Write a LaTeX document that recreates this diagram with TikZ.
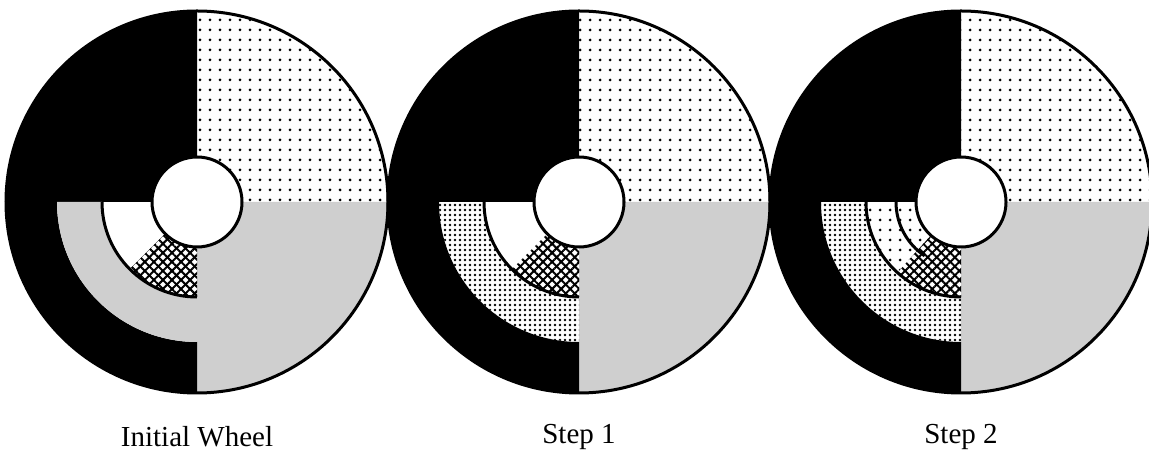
\documentclass[tikz,border=0pt]{standalone}
\usepackage{fontspec}
\setmainfont{Liberation Serif}
\usetikzlibrary{patterns.meta}

\begin{document}
\begin{tikzpicture}[
  x=0.5pt, y=0.5pt,
  outline/.style={line width=1.5pt},
  sparsedots/.style={pattern={Dots[distance=5pt, radius=0.75pt]}},
  densedots/.style={pattern={Dots[distance=2.5pt, radius=0.65pt]}},
  stipple/.style={fill=black!19},
  hatchup/.style={pattern={Lines[angle=45, distance=3.2pt, line width=1pt]}},
  hatchdown/.style={pattern={Lines[angle=-45, distance=3.2pt, line width=1pt]}},
  caption/.style={font=\fontsize{14.5}{17}\selectfont}
]
  \useasboundingbox (0,0) rectangle (1149,470);

  % parts shared by all three wheels
  \foreach \cx in {197,579,961} {
    \fill (\cx,268) -- ++(90:191) arc[start angle=90, end angle=180, radius=191] -- cycle;
    \path[sparsedots] (\cx,268) -- ++(0:191) arc[start angle=0, end angle=90, radius=191] -- cycle;
    \fill[stipple] (\cx,268) -- ++(270:191) arc[start angle=270, end angle=360, radius=191] -- cycle;
    \fill (\cx,268) ++(180:191) arc[start angle=180, end angle=270, radius=191]
      -- ++(90:51) arc[start angle=270, end angle=180, radius=140] -- cycle;
  }

  % initial wheel
  \fill[stipple] (197,268) ++(180:140) arc[start angle=180, end angle=270, radius=140]
    -- ++(90:45) arc[start angle=270, end angle=180, radius=95] -- cycle;

  % step 1
  \path[densedots] (579,268) ++(180:140) arc[start angle=180, end angle=270, radius=140]
    -- ++(90:45) arc[start angle=270, end angle=180, radius=95] -- cycle;

  % step 2
  \path[densedots] (961,268) ++(180:140) arc[start angle=180, end angle=270, radius=140]
    -- ++(90:45) arc[start angle=270, end angle=180, radius=95] -- cycle;
  \path[sparsedots] (961,268) ++(180:95) arc[start angle=180, end angle=228, radius=95]
    -- ++(48:50) arc[start angle=228, end angle=180, radius=45] -- cycle;

  % cross-hatched sector next to the hub
  \foreach \cx/\sa in {197/225, 579/225, 961/228} {
    \path[hatchup] (\cx,268) ++(\sa:95) arc[start angle=\sa, end angle=270, radius=95]
      -- ++(90:50) arc[start angle=270, end angle=\sa, radius=45] -- cycle;
    \path[hatchdown] (\cx,268) ++(\sa:95) arc[start angle=\sa, end angle=270, radius=95]
      -- ++(90:50) arc[start angle=270, end angle=\sa, radius=45] -- cycle;
  }

  \foreach \cx in {197,579,961} {
    \draw[outline] (\cx,268) circle[radius=191];
    \draw[outline] (\cx,268) ++(180:95) arc[start angle=180, end angle=270, radius=95];
    \draw[outline, fill=white] (\cx,268) circle[radius=45];
  }
  \draw[outline] (961,268) ++(180:65) arc[start angle=180, end angle=236, radius=65];

  \node[caption] (init) at (197,33) {Initial Wheel};
  \node[caption] (stepone) at (579,33) {Step 1};
  \node[caption] (steptwo) at (961,33) {Step 2};
\end{tikzpicture}
\end{document}
